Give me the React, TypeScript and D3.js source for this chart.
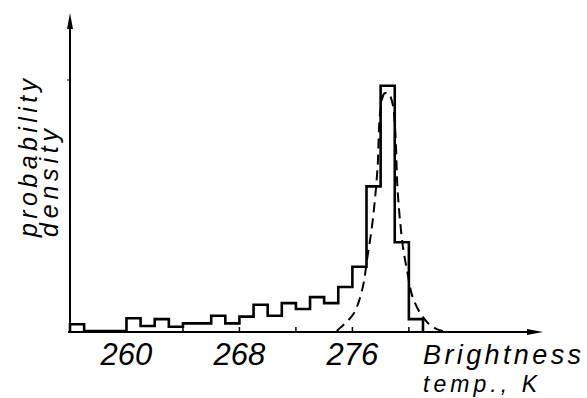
import React from "react";
import * as d3 from "d3";

// Histogram: 1 K bins, bin start temperature (K) and probability density
const binStarts = [256, 257, 258, 259, 260, 261, 262, 263, 264, 265, 266, 267, 268, 269, 270, 271, 272, 273, 274, 275, 276, 277, 278, 279, 280];
const binDensity = [0.008, 0, 0, 0, 0.015, 0.006, 0.014, 0.005, 0.009, 0.009, 0.018, 0.009, 0.017, 0.031, 0.018, 0.033, 0.026, 0.04, 0.033, 0.052, 0.076, 0.171, 0.29, 0.105, 0.014];

// Fitted (dashed) curve
const curveT = [274.9, 275.15, 276.07, 276.71, 277.06, 277.42, 277.77, 277.98, 278.27, 278.55, 278.83, 279.04, 279.19, 279.4, 279.61, 279.89, 280.25, 280.81, 281.38, 282.02, 282.4];
const curveD = [0, 0.004, 0.02, 0.05, 0.087, 0.128, 0.19, 0.26, 0.281, 0.281, 0.27, 0.235, 0.17, 0.126, 0.096, 0.07, 0.041, 0.021, 0.009, 0.002, 0];

const tickValues = [264, 268, 272, 276, 280];
const tickLabels = [260, 268, 276];

export default function App() {
  const W = 587, H = 398;
  const x = d3.scaleLinear().domain([256, 289.5]).range([70, 543]);
  const y = d3.scaleLinear().domain([0, 0.376]).range([331, 13]);

  const histPts: [number, number][] = [[x(binStarts[0]), y(0)]];
  binStarts.forEach((s, i) => {
    histPts.push([x(s), y(binDensity[i])]);
    histPts.push([x(s + 1), y(binDensity[i])]);
  });
  histPts.push([x(binStarts[binStarts.length - 1] + 1), y(0)]);
  const histPath = d3.line()(histPts) || "";

  const curvePath =
    d3
      .line<number>()
      .x((_, i) => x(curveT[i]))
      .y((d) => y(d))
      .curve(d3.curveCatmullRom)(curveD) || "";

  const x0 = x(256);
  const y0 = y(0);
  const xEnd = x(289.5);
  const yTop = y(0.376);
  const font = "'Liberation Sans', Arial, sans-serif";

  return (
    <svg width={W} height={H} style={{ position: "absolute", left: 0, top: 0, background: "#fff" }}>
      {/* axes */}
      <line x1={x0} y1={y0 + 1} x2={x0} y2={yTop + 10} stroke="#000" strokeWidth={2} />
      <path d={`M${x0},${yTop} L${x0 - 3},${yTop + 16} L${x0 + 3},${yTop + 16} Z`} fill="#000" />
      <line x1={x0 - 2} y1={y0 + 1} x2={xEnd - 10} y2={y0 + 1} stroke="#000" strokeWidth={2} />
      <path d={`M${xEnd},${y0 + 1} L${xEnd - 16},${y0 - 2} L${xEnd - 16},${y0 + 4} Z`} fill="#000" />
      <line x1={x0 - 3} y1={80} x2={x0} y2={80} stroke="#000" strokeWidth={1} />
      {tickValues.map((t) => (
        <line key={t} x1={x(t)} x2={x(t)} y1={y0} y2={y0 - 4} stroke="#000" strokeWidth={1.5} />
      ))}

      {/* histogram */}
      <path d={histPath} fill="none" stroke="#000" strokeWidth={2.6} strokeLinejoin="miter" />

      {/* fitted curve */}
      <path d={curvePath} fill="none" stroke="#000" strokeWidth={2} strokeDasharray="10 6" />

      {/* tick labels */}
      {tickLabels.map((t) => (
        <text key={t} x={x(t)} y={365} textAnchor="middle" fontFamily={font} fontStyle="italic" fontSize={31} fill="#000">
          {t}
        </text>
      ))}

      {/* x axis title */}
      <text x={423} y={364} fontFamily={font} fontStyle="italic" fontSize={27} fill="#000" textLength={158} lengthAdjust="spacing">
        Brightness
      </text>
      <text x={423} y={392} fontFamily={font} fontStyle="italic" fontSize={23} fill="#000" textLength={114} lengthAdjust="spacing">
        temp., K
      </text>

      {/* y axis title */}
      <g transform="translate(37,237) rotate(-90)">
        <text x={0} y={0} fontFamily={font} fontStyle="italic" fontSize={25} fill="#000" textLength={158} lengthAdjust="spacing">
          probability
        </text>
        <text x={0} y={21} fontFamily={font} fontStyle="italic" fontSize={25} fill="#000" textLength={108} lengthAdjust="spacing">
          density
        </text>
      </g>
    </svg>
  );
}
